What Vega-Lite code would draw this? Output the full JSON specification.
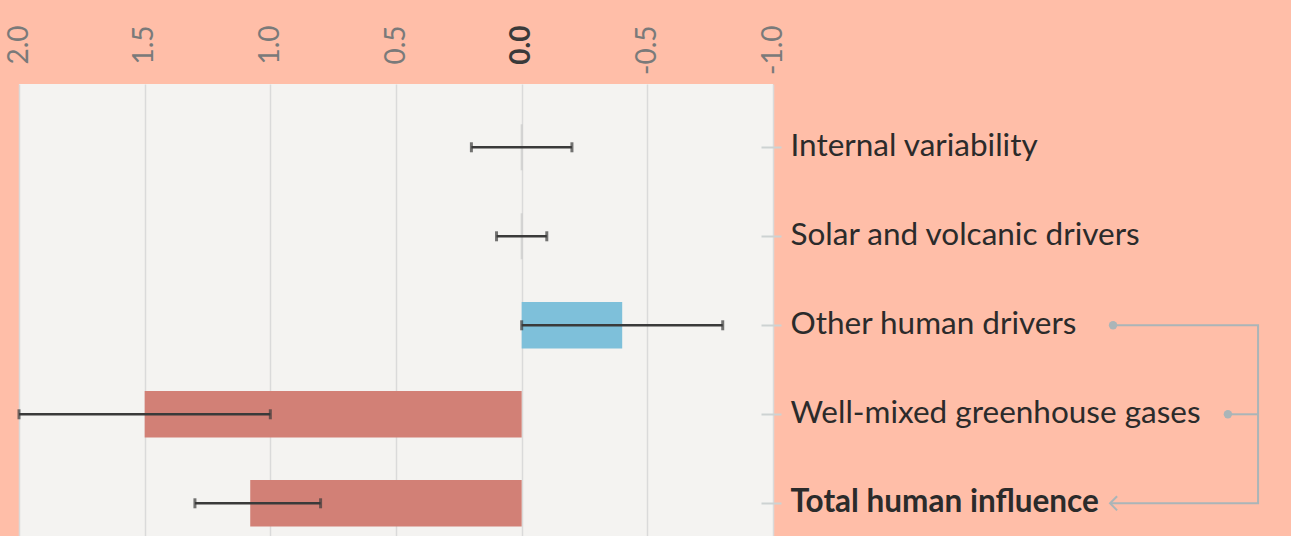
{
  "$schema": "https://vega.github.io/schema/vega-lite/v6.json",
  "width": 754,
  "height": 452,
  "autosize": {"type": "none"},
  "padding": {"left": 19, "top": 84, "right": 518, "bottom": 0},
  "background": "#ffbea8",
  "config": {"view": {"fill": "#f4f3f1", "stroke": null}, "font": "Lato"},
  "datasets": {
    "drivers": [
      {"driver": "Internal variability", "best": 0, "lo": -0.2, "hi": 0.2, "type": "natural"},
      {"driver": "Solar and volcanic drivers", "best": 0, "lo": -0.1, "hi": 0.1, "type": "natural"},
      {"driver": "Other human drivers", "best": -0.4, "lo": -0.8, "hi": 0.0, "type": "cooling"},
      {"driver": "Well-mixed greenhouse gases", "best": 1.5, "lo": 1.0, "hi": 2.0, "type": "warming"},
      {"driver": "Total human influence", "best": 1.08, "lo": 0.8, "hi": 1.3, "type": "warming"}
    ],
    "bracket": [
      {"seg": "a", "i": 1, "driver": "Other human drivers", "x": -2.353},
      {"seg": "a", "i": 2, "driver": "Other human drivers", "x": -2.93},
      {"seg": "a", "i": 3, "driver": "Total human influence", "x": -2.93},
      {"seg": "a", "i": 4, "driver": "Total human influence", "x": -2.341},
      {"seg": "b", "i": 1, "driver": "Well-mixed greenhouse gases", "x": -2.81},
      {"seg": "b", "i": 2, "driver": "Well-mixed greenhouse gases", "x": -2.93}
    ],
    "dots": [
      {"driver": "Other human drivers", "x": -2.353},
      {"driver": "Well-mixed greenhouse gases", "x": -2.81}
    ],
    "arrow": [
      {"driver": "Total human influence", "x": -2.341}
    ]
  },
  "layer": [
    {
      "data": {"name": "drivers"},
      "transform": [{"filter": "datum.type !== 'natural'"}],
      "mark": {"type": "bar"},
      "encoding": {
        "x": {
          "field": "best", "type": "quantitative",
          "scale": {"domain": [-1, 2], "reverse": true, "nice": false, "zero": false},
          "axis": {
            "orient": "top", "values": [2, 1.5, 1, 0.5, 0, -0.5, -1],
            "labelExpr": "replace(format(datum.value,'.1f'),'\u2212','-')",
            "labelAngle": -90, "labelAlign": "right", "labelBaseline": "middle",
            "labelPadding": 59, "ticks": false, "tickSize": 0, "domain": false, "title": null,
            "labelFont": "Lato", "labelFontSize": 28, "labelOverlap": false,
            "labelColor": {"condition": {"test": "datum.value === 0", "value": "#3a3a3a"}, "value": "#7a7a7a"},
            "labelFontWeight": {"condition": {"test": "datum.value === 0", "value": "bold"}, "value": "normal"},
            "grid": true, "gridColor": "#dadada", "gridWidth": 1.5
          }
        },
        "y": {
          "field": "driver", "type": "nominal", "sort": null,
          "scale": {
            "domain": ["Internal variability", "Solar and volcanic drivers", "Other human drivers", "Well-mixed greenhouse gases", "Total human influence"],
            "paddingInner": 0.4775, "paddingOuter": 0.278, "align": 0.809
          },
          "axis": {
            "orient": "right", "offset": -12, "tickSize": 20, "tickColor": "#cdd2d2", "tickWidth": 2,
            "domain": false, "labelPadding": 9, "labelFont": "Lato", "labelFontSize": 31.5,
            "labelColor": "#2b2b2b", "labelLimit": 800, "title": null, "grid": false,
            "labelFontWeight": {"condition": {"test": "datum.value === 'Total human influence'", "value": "bold"}, "value": "normal"}
          }
        },
        "color": {
          "field": "type", "type": "nominal",
          "scale": {"domain": ["cooling", "warming"], "range": ["#7ec0da", "#d28076"]},
          "legend": null
        }
      }
    },
    {
      "data": {"name": "drivers"},
      "transform": [{"filter": "datum.type === 'natural'"}],
      "mark": {"type": "tick", "orient": "vertical", "color": "#c9c9c9", "size": 46, "thickness": 2},
      "encoding": {
        "x": {"field": "best", "type": "quantitative"},
        "y": {"field": "driver", "type": "nominal", "sort": null}
      }
    },
    {
      "data": {"name": "drivers"},
      "mark": {"type": "rule", "color": "#3a3a3a", "strokeWidth": 2.5},
      "encoding": {
        "x": {"field": "lo", "type": "quantitative"},
        "x2": {"field": "hi"},
        "y": {"field": "driver", "type": "nominal", "sort": null}
      }
    },
    {
      "data": {"name": "drivers"},
      "transform": [{"fold": ["lo", "hi"], "as": ["end", "val"]}],
      "mark": {"type": "tick", "orient": "vertical", "color": "#3a3a3a", "size": 10, "thickness": 3},
      "encoding": {
        "x": {"field": "val", "type": "quantitative"},
        "y": {"field": "driver", "type": "nominal", "sort": null}
      }
    },
    {
      "data": {"name": "bracket"},
      "mark": {"type": "line", "color": "#aab5b8", "strokeWidth": 2},
      "encoding": {
        "x": {"field": "x", "type": "quantitative"},
        "y": {"field": "driver", "type": "nominal", "sort": null},
        "detail": {"field": "seg"},
        "order": {"field": "i"}
      }
    },
    {
      "data": {"name": "dots"},
      "mark": {"type": "point", "filled": true, "color": "#aab5b8", "opacity": 1, "size": 70},
      "encoding": {
        "x": {"field": "x", "type": "quantitative"},
        "y": {"field": "driver", "type": "nominal", "sort": null}
      }
    },
    {
      "data": {"name": "arrow"},
      "mark": {"type": "point", "shape": "M1,-1L0,0L1,1", "filled": false, "color": "#aab5b8", "opacity": 1, "strokeWidth": 2, "size": 200},
      "encoding": {
        "x": {"field": "x", "type": "quantitative"},
        "y": {"field": "driver", "type": "nominal", "sort": null}
      }
    }
  ]
}
